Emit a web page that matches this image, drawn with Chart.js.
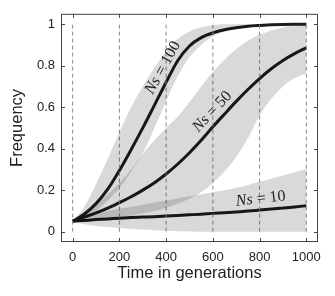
<!DOCTYPE html>
<html lang="en">
<head>
<meta charset="UTF-8">
<title>Frequency over time</title>
<script src="https://cdn.jsdelivr.net/npm/chart.js"></script>
<style>
    body { margin: 0; padding: 0; background: #fff; }
    #wrap { width: 335px; height: 296px; }
</style>
</head>
<body>
<div id="wrap"><canvas id="chart" width="335" height="296"></canvas></div>
<script>
    // data (every 50 generations)
    const generations = [0, 50, 100, 150, 200, 250, 300, 350, 400, 450, 500, 550, 600, 650, 700, 750, 800, 850, 900, 950, 1000];

    const ns100      = [0.05, 0.085, 0.135, 0.205, 0.295, 0.395, 0.50, 0.61, 0.72, 0.825, 0.895, 0.935, 0.958, 0.973, 0.983, 0.99, 0.994, 0.997, 0.999, 1.0, 1.0];
    const ns100Upper = [0.05, 0.12, 0.23, 0.35, 0.48, 0.60, 0.70, 0.79, 0.87, 0.93, 0.965, 0.985, 0.995, 1.0, 1.0, 1.0, 1.0, 1.0, 1.0, 1.0, 1.0];
    const ns100Lower = [0.05, 0.07, 0.10, 0.15, 0.21, 0.29, 0.38, 0.50, 0.63, 0.75, 0.84, 0.90, 0.94, 0.965, 0.98, 0.99, 0.995, 0.998, 0.999, 1.0, 1.0];

    const ns50      = [0.05, 0.07, 0.09, 0.113, 0.14, 0.168, 0.20, 0.236, 0.278, 0.326, 0.38, 0.44, 0.505, 0.567, 0.628, 0.685, 0.738, 0.785, 0.825, 0.858, 0.886];
    const ns50Upper = [0.05, 0.085, 0.13, 0.18, 0.235, 0.30, 0.375, 0.44, 0.50, 0.555, 0.625, 0.70, 0.77, 0.83, 0.88, 0.92, 0.95, 0.97, 0.985, 0.993, 0.997];
    const ns50Lower = [0.05, 0.052, 0.056, 0.062, 0.07, 0.078, 0.088, 0.10, 0.115, 0.135, 0.158, 0.19, 0.235, 0.29, 0.36, 0.45, 0.56, 0.64, 0.70, 0.74, 0.764];

    const ns10      = [0.05, 0.054, 0.058, 0.061, 0.065, 0.068, 0.07, 0.072, 0.075, 0.078, 0.081, 0.084, 0.088, 0.091, 0.095, 0.099, 0.104, 0.109, 0.114, 0.119, 0.125];
    const ns10Upper = [0.05, 0.075, 0.09, 0.10, 0.11, 0.12, 0.13, 0.14, 0.15, 0.16, 0.17, 0.18, 0.19, 0.20, 0.212, 0.225, 0.24, 0.255, 0.27, 0.286, 0.303];
    const ns10Lower = [0.05, 0.035, 0.027, 0.022, 0.018, 0.014, 0.01, 0.007, 0.004, 0.002, 0.001, 0, 0, 0, 0, 0, 0, 0, 0, 0, 0];

    const xTicks = [0, 200, 400, 600, 800, 1000];
    const yTicks = [0, 0.2, 0.4, 0.6, 0.8, 1];

    const bandFill = 'rgba(0, 0, 0, 0.15)';
    const pts = arr => arr.map((v, i) => ({ x: generations[i], y: v }));

    function band(upper, lower, idx) {
        return [
            { data: pts(upper), fill: idx + 1, backgroundColor: bandFill, borderWidth: 0, pointRadius: 0, cubicInterpolationMode: 'monotone' },
            { data: pts(lower), fill: false, borderWidth: 0, pointRadius: 0, cubicInterpolationMode: 'monotone' }
        ];
    }

    const datasets = [
        ...band(ns100Upper, ns100Lower, 0),
        ...band(ns50Upper, ns50Lower, 2),
        ...band(ns10Upper, ns10Lower, 4)
    ];

    // dashed guides at each x tick
    xTicks.forEach(v => {
        datasets.push({
            data: [{ x: v, y: 0 }, { x: v, y: 1 }],
            borderColor: '#8a8a8a', borderWidth: 1, borderDash: [4, 3],
            pointRadius: 0, fill: false
        });
    });

    [ns100, ns50, ns10].forEach(series => {
        datasets.push({
            data: pts(series), borderColor: '#1c1c1c', borderWidth: 3,
            pointRadius: 0, fill: false, cubicInterpolationMode: 'monotone'
        });
    });

    const curveLabels = [
        { value: '100', x: 386, y: 0.79, angle: -61 },
        { value: '50', x: 598, y: 0.578, angle: -47 },
        { value: '10', x: 805, y: 0.158, angle: -6 }
    ];

    const framePlugin = {
        id: 'frame',
        afterDraw(chart) {
            const { ctx, chartArea: a, scales } = chart;
            ctx.save();
            ctx.strokeStyle = '#444';
            ctx.lineWidth = 1;
            ctx.strokeRect(a.left + 0.5, a.top + 0.5, a.right - a.left - 1, a.bottom - a.top - 1);
            // inward ticks on all four sides
            ctx.beginPath();
            xTicks.forEach(v => {
                const px = Math.round(scales.x.getPixelForValue(v)) + 0.5;
                ctx.moveTo(px, a.bottom); ctx.lineTo(px, a.bottom - 4);
                ctx.moveTo(px, a.top); ctx.lineTo(px, a.top + 4);
            });
            yTicks.forEach(v => {
                const py = Math.round(scales.y.getPixelForValue(v)) + 0.5;
                ctx.moveTo(a.left, py); ctx.lineTo(a.left + 4, py);
                ctx.moveTo(a.right, py); ctx.lineTo(a.right - 4, py);
            });
            ctx.stroke();

            // curve labels
            ctx.fillStyle = '#222';
            ctx.textBaseline = 'middle';
            curveLabels.forEach(l => {
                const italic = 'italic 16px "Liberation Serif", "DejaVu Serif", serif';
                const roman = '16px "Liberation Serif", "DejaVu Serif", serif';
                const rest = ' = ' + l.value;
                ctx.font = italic;
                const w1 = ctx.measureText('Ns').width;
                ctx.font = roman;
                const w2 = ctx.measureText(rest).width;
                const w = w1 + w2;
                ctx.save();
                ctx.translate(scales.x.getPixelForValue(l.x), scales.y.getPixelForValue(l.y));
                ctx.rotate(l.angle * Math.PI / 180);
                ctx.font = italic;
                ctx.fillText('Ns', -w / 2, 0);
                ctx.font = roman;
                ctx.fillText(rest, -w / 2 + w1, 0);
                ctx.restore();
            });
            ctx.restore();
        }
    };

    const tickFont = { family: '"Liberation Sans", Arial, sans-serif', size: 13 };
    const titleFont = { family: '"Liberation Sans", Arial, sans-serif', size: 16.5 };

    new Chart(document.getElementById('chart'), {
        type: 'line',
        data: { datasets },
        plugins: [framePlugin],
        options: {
            responsive: false,
            animation: false,
            layout: { padding: { top: 9, right: 17, left: 0, bottom: 0 } },
            plugins: { legend: { display: false }, tooltip: { enabled: false } },
            scales: {
                x: {
                    type: 'linear', min: -50, max: 1050,
                    grid: { display: false, drawTicks: false },
                    border: { display: false },
                    afterBuildTicks: s => { s.ticks = xTicks.map(v => ({ value: v })); },
                    afterFit: s => { s.height = 54; },
                    ticks: { color: '#222', font: tickFont, padding: 8, maxRotation: 0, callback: v => String(v) },
                    title: { display: true, text: 'Time in generations', color: '#222', font: titleFont, padding: { top: 0, bottom: 13 } }
                },
                y: {
                    type: 'linear', min: -0.05, max: 1.05,
                    grid: { display: false, drawTicks: false },
                    border: { display: false },
                    afterBuildTicks: s => { s.ticks = yTicks.map(v => ({ value: v })); },
                    afterFit: s => { s.width = 61; },
                    ticks: { color: '#222', font: tickFont, padding: 6, callback: v => String(v) },
                    title: { display: true, text: 'Frequency', color: '#222', font: titleFont, padding: { top: 8, bottom: 0 } }
                }
            }
        }
    });
</script>
</body>
</html>
